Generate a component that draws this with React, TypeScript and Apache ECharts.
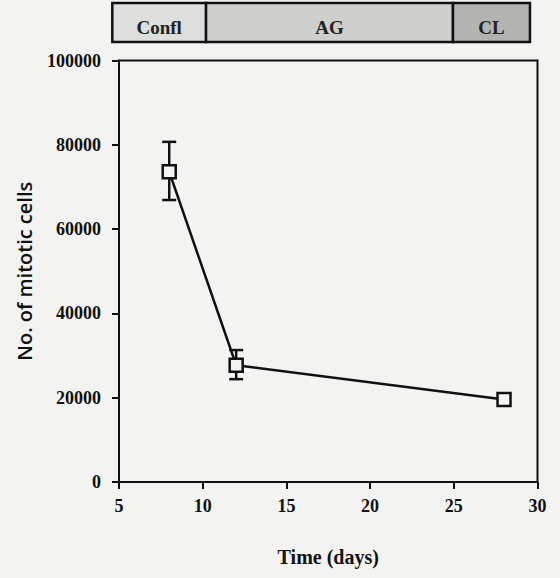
import React, { useEffect, useRef } from "react";
import * as echarts from "echarts";

const days = [8, 12, 28];
const mitoticCells = [73600, 27700, 19600];
const errLow = [66900, 24400, 19600];
const errHigh = [80700, 31300, 19600];
const phaseNames = ["Confl", "AG", "CL"];
const phaseStart = [4.6, 10.2, 24.95];
const phaseEnd = [10.2, 24.95, 29.55];
const phaseColors = ["#dededc", "#cfcfcd", "#b3b3b1"];
const xTicks = [5, 10, 15, 20, 25, 30];
const yTicks = [0, 20000, 40000, 60000, 80000, 100000];

const BG = "#f3f3f1";
const FONT = "'Liberation Serif', 'DejaVu Serif', serif";
const SANS = "'Open Sans', 'Noto Sans', sans-serif";

export default function App() {
  const ref = useRef<HTMLDivElement>(null);
  useEffect(() => {
    if (!ref.current) return;
    const chart = echarts.init(ref.current, undefined, { renderer: "svg" });
    const points = days.map((d, i) => [d, mitoticCells[i]]);
    const errData = days.map((d, i) => [d, errLow[i], errHigh[i]]);
    const phaseData = phaseNames.map((n, i) => [phaseStart[i], phaseEnd[i], i]);
    chart.setOption({
      animation: false,
      backgroundColor: BG,
      grid: [
        { left: 119, right: 22.5, top: 60.5, bottom: 96, show: true, borderColor: "#111", borderWidth: 2, backgroundColor: "transparent" },
        { left: 119, right: 22.5, top: 3, height: 39 },
      ],
      xAxis: [
        {
          gridIndex: 0,
          type: "value",
          min: xTicks[0],
          max: xTicks[xTicks.length - 1],
          interval: 5,
          name: "Time (days)",
          nameLocation: "middle",
          nameGap: 65,
          nameTextStyle: { fontFamily: FONT, fontSize: 20, fontWeight: "bold", color: "#111" },
          axisLine: { lineStyle: { color: "#111", width: 2 } },
          axisTick: { show: true, length: 7, lineStyle: { color: "#111", width: 2 } },
          axisLabel: { fontFamily: FONT, fontSize: 18, fontWeight: "bold", color: "#111", margin: 15 },
          splitLine: { show: false },
        },
        { gridIndex: 1, type: "value", min: 5, max: 30, show: false },
      ],
      yAxis: [
        {
          gridIndex: 0,
          type: "value",
          min: yTicks[0],
          max: yTicks[yTicks.length - 1],
          interval: 20000,
          name: "No. of mitotic cells",
          nameLocation: "middle",
          nameGap: 85,
          nameTextStyle: { fontFamily: SANS, fontSize: 20, fontWeight: 600, color: "#111" },
          axisLine: { lineStyle: { color: "#111", width: 2 } },
          axisTick: { show: true, length: 7, lineStyle: { color: "#111", width: 2 } },
          axisLabel: {
            fontFamily: FONT,
            fontSize: 18,
            fontWeight: "bold",
            color: "#111",
            margin: 18,
            formatter: (v: number) => String(v),
          },
          splitLine: { show: false },
        },
        { gridIndex: 1, type: "value", min: 0, max: 1, show: false },
      ],
      series: [
        {
          type: "custom",
          xAxisIndex: 0,
          yAxisIndex: 0,
          data: errData,
          z: 2,
          renderItem: (params: any, api: any) => {
            const x = api.value(0);
            const lo = api.coord([x, api.value(1)]);
            const hi = api.coord([x, api.value(2)]);
            const hw = 7;
            if (Math.abs(lo[1] - hi[1]) < 1) return { type: "group", children: [] };
            const style = { stroke: "#111", lineWidth: 2.5 };
            return {
              type: "group",
              children: [
                { type: "line", shape: { x1: hi[0], y1: hi[1], x2: lo[0], y2: lo[1] }, style },
                { type: "line", shape: { x1: hi[0] - hw, y1: hi[1], x2: hi[0] + hw, y2: hi[1] }, style },
                { type: "line", shape: { x1: lo[0] - hw, y1: lo[1], x2: lo[0] + hw, y2: lo[1] }, style },
              ],
            };
          },
        },
        {
          type: "line",
          xAxisIndex: 0,
          yAxisIndex: 0,
          data: points,
          z: 3,
          symbol: "rect",
          symbolSize: 13,
          lineStyle: { color: "#111", width: 2.5 },
          itemStyle: { color: BG, borderColor: "#111", borderWidth: 2.5 },
        },
        {
          type: "custom",
          xAxisIndex: 1,
          yAxisIndex: 1,
          data: phaseData,
          renderItem: (params: any, api: any) => {
            const a = api.coord([api.value(0), 1]);
            const b = api.coord([api.value(1), 0]);
            const i = api.value(2);
            return {
              type: "group",
              children: [
                {
                  type: "rect",
                  shape: { x: a[0], y: a[1], width: b[0] - a[0], height: b[1] - a[1] },
                  style: { fill: phaseColors[i], stroke: "#111", lineWidth: 2.5 },
                },
                {
                  type: "text",
                  x: (a[0] + b[0]) / 2,
                  y: (a[1] + b[1]) / 2 + 5,
                  style: {
                    text: phaseNames[i],
                    align: "center",
                    verticalAlign: "middle",
                    font: `bold 19px ${FONT}`,
                    fill: "#222",
                  },
                },
              ],
            };
          },
        },
      ],
    });
    return () => chart.dispose();
  }, []);
  return (
    <div
      ref={ref}
      style={{ position: "absolute", left: 0, top: 0, width: 560, height: 578 }}
    />
  );
}
